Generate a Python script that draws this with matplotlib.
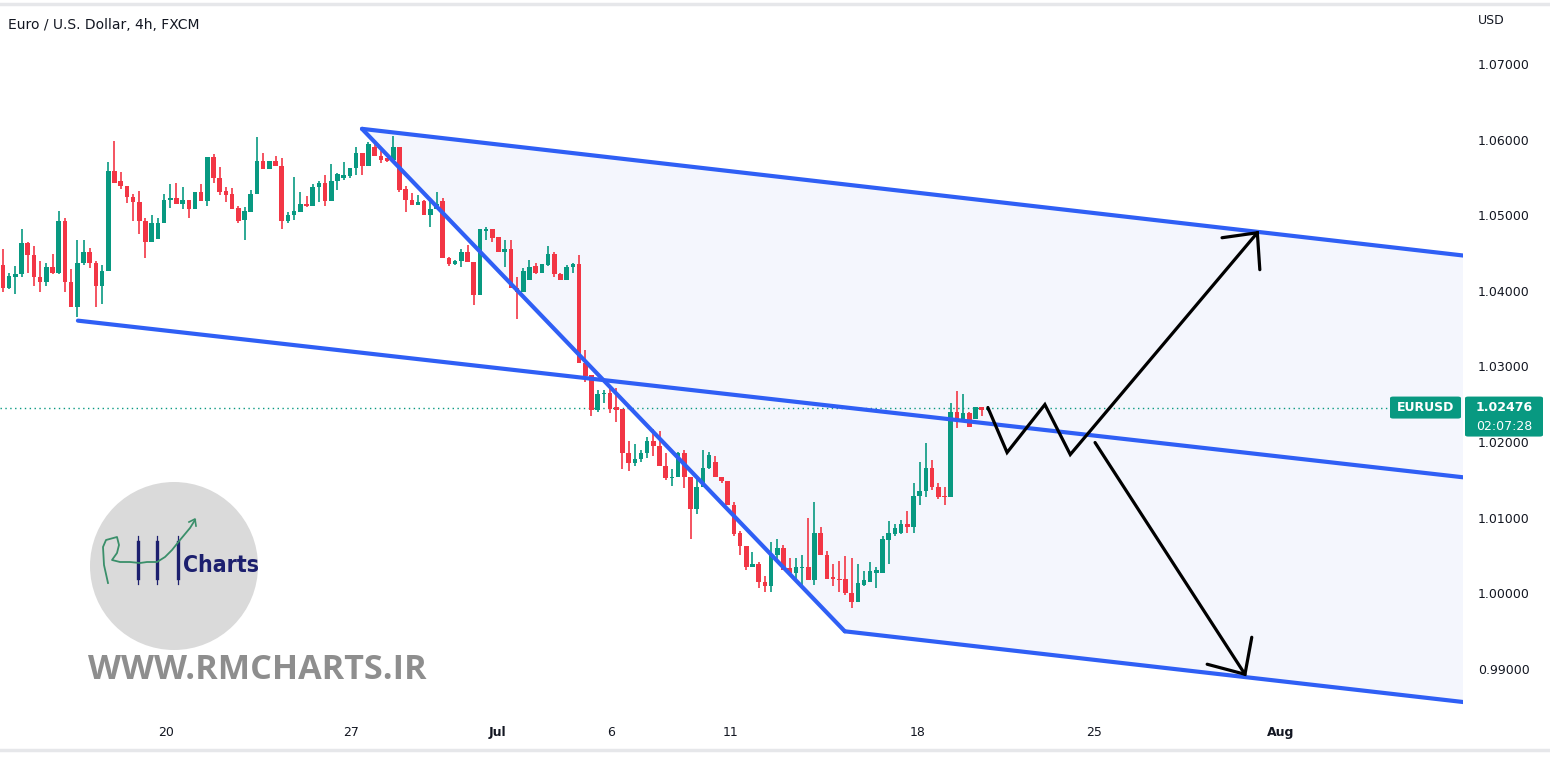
import matplotlib
matplotlib.use("Agg")
import matplotlib.pyplot as plt
import numpy as np
from matplotlib.patches import Polygon, Ellipse, FancyBboxPatch
from matplotlib.lines import Line2D
import matplotlib.transforms as mtransforms

# ---------------- data ----------------
opens = [1.0437,1.0406,1.0421,1.0424,1.0466,1.0449,1.0420,1.0414,1.0434,1.0426,
1.0494,1.0414,1.0381,1.0439,1.0453,1.0439,1.0409,1.0429,1.0561,1.0547,
1.0541,1.0527,1.0520,1.0495,1.0467,1.0471,1.0492,1.0523,1.0525,1.0517,
1.0523,1.0510,1.0533,1.0521,1.0580,1.0551,1.0535,1.0531,1.0512,1.0496,
1.0507,1.0531,1.0574,1.0564,1.0574,1.0568,1.0494,1.0503,1.0507,1.0517,
1.0515,1.0540,1.0545,1.0521,1.0547,1.0552,1.0554,1.0565,1.0585,1.0568,
1.0592,1.0581,1.0578,1.0576,1.0592,1.0537,1.0523,1.0516,1.0521,1.0503,
1.0511,1.0521,1.0446,1.0438,1.0442,1.0454,1.0441,1.0397,1.0482,1.0484,
1.0474,1.0454,1.0458,1.0406,1.0401,1.0416,1.0435,1.0426,1.0437,1.0451,
1.0425,1.0417,1.0434,1.0438,1.0307,1.0291,1.0245,1.0265,1.0267,1.0248,
1.0246,1.0187,1.0174,1.0179,1.0188,1.0203,1.0197,1.0170,1.0154,1.0156,
1.0188,1.0155,1.0113,1.0143,1.0167,1.0175,1.0155,1.0151,1.0119,1.0082,
1.0064,1.0037,1.0041,1.0016,1.0011,1.0053,1.0062,1.0035,1.0029,1.0035,
1.0037,1.0019,1.0082,1.0053,1.0023,1.0021,1.0020,1.0002,0.9990,1.0013,
1.0017,1.0029,1.0029,1.0072,1.0080,1.0081,1.0093,1.0090,1.0130,1.0137,
1.0167,1.0143,1.0130,1.0129,1.0242,1.0232,1.0241,1.0232,1.0248,1.0245]

highs = [1.0458,1.0426,1.0435,1.0484,1.0467,1.0461,1.0442,1.0439,1.0451,1.0508,
1.0498,1.0431,1.0470,1.0470,1.0459,1.0442,1.0437,1.0573,1.0601,1.0560,
1.0541,1.0531,1.0535,1.0498,1.0502,1.0499,1.0531,1.0543,1.0545,1.0540,
1.0523,1.0533,1.0543,1.0580,1.0584,1.0566,1.0540,1.0539,1.0515,1.0513,
1.0536,1.0606,1.0585,1.0574,1.0581,1.0578,1.0506,1.0553,1.0533,1.0528,
1.0543,1.0547,1.0556,1.0570,1.0558,1.0573,1.0565,1.0592,1.0585,1.0599,
1.0597,1.0588,1.0578,1.0607,1.0592,1.0541,1.0532,1.0529,1.0523,1.0523,
1.0533,1.0525,1.0447,1.0443,1.0458,1.0463,1.0441,1.0484,1.0487,1.0484,
1.0474,1.0470,1.0470,1.0421,1.0433,1.0443,1.0439,1.0438,1.0462,1.0454,
1.0426,1.0437,1.0439,1.0450,1.0324,1.0291,1.0271,1.0271,1.0275,1.0274,
1.0246,1.0203,1.0199,1.0191,1.0209,1.0219,1.0216,1.0188,1.0166,1.0189,
1.0192,1.0155,1.0155,1.0191,1.0189,1.0183,1.0156,1.0151,1.0123,1.0084,
1.0064,1.0056,1.0043,1.0024,1.0070,1.0074,1.0065,1.0048,1.0049,1.0053,
1.0102,1.0122,1.0089,1.0057,1.0040,1.0045,1.0051,1.0048,1.0041,1.0031,
1.0043,1.0036,1.0077,1.0097,1.0093,1.0099,1.0111,1.0148,1.0175,1.0201,
1.0178,1.0148,1.0143,1.0254,1.0269,1.0265,1.0242,1.0249,1.0249,1.0250]

lows = [1.0400,1.0404,1.0398,1.0420,1.0426,1.0408,1.0400,1.0408,1.0425,1.0425,
1.0400,1.0381,1.0367,1.0437,1.0433,1.0381,1.0385,1.0429,1.0545,1.0537,
1.0519,1.0495,1.0478,1.0445,1.0467,1.0471,1.0492,1.0512,1.0517,1.0510,
1.0499,1.0510,1.0521,1.0515,1.0545,1.0529,1.0520,1.0511,1.0492,1.0470,
1.0507,1.0531,1.0564,1.0563,1.0568,1.0484,1.0492,1.0496,1.0507,1.0513,
1.0515,1.0520,1.0515,1.0521,1.0536,1.0549,1.0552,1.0556,1.0556,1.0568,
1.0581,1.0572,1.0573,1.0576,1.0533,1.0506,1.0516,1.0516,1.0502,1.0487,
1.0511,1.0445,1.0435,1.0437,1.0434,1.0441,1.0384,1.0397,1.0470,1.0467,
1.0453,1.0434,1.0406,1.0365,1.0401,1.0416,1.0425,1.0426,1.0435,1.0421,
1.0416,1.0417,1.0426,1.0307,1.0282,1.0236,1.0242,1.0254,1.0241,1.0228,
1.0166,1.0163,1.0170,1.0176,1.0181,1.0183,1.0170,1.0152,1.0144,1.0156,
1.0141,1.0073,1.0106,1.0142,1.0166,1.0155,1.0148,1.0118,1.0077,1.0053,
1.0033,1.0036,1.0008,1.0004,1.0003,1.0044,1.0033,1.0029,1.0016,1.0013,
1.0019,1.0013,1.0053,1.0021,1.0011,1.0004,1.0000,0.9982,0.9990,1.0011,
1.0016,1.0008,1.0029,1.0040,1.0077,1.0080,1.0082,1.0082,1.0119,1.0129,
1.0138,1.0127,1.0119,1.0129,1.0221,1.0229,1.0222,1.0232,1.0236,1.0243]

closes = [1.0406,1.0422,1.0425,1.0466,1.0449,1.0420,1.0414,1.0434,1.0426,1.0494,
1.0414,1.0381,1.0439,1.0453,1.0439,1.0409,1.0429,1.0561,1.0545,1.0541,
1.0527,1.0520,1.0495,1.0467,1.0492,1.0492,1.0523,1.0525,1.0517,1.0523,
1.0510,1.0533,1.0521,1.0580,1.0551,1.0533,1.0529,1.0511,1.0495,1.0508,
1.0531,1.0574,1.0564,1.0574,1.0568,1.0494,1.0503,1.0508,1.0517,1.0515,
1.0540,1.0545,1.0521,1.0547,1.0557,1.0556,1.0565,1.0585,1.0568,1.0597,
1.0581,1.0576,1.0574,1.0592,1.0536,1.0523,1.0516,1.0520,1.0503,1.0511,
1.0517,1.0445,1.0438,1.0442,1.0454,1.0441,1.0397,1.0484,1.0484,1.0472,
1.0453,1.0458,1.0406,1.0401,1.0428,1.0434,1.0426,1.0438,1.0451,1.0424,
1.0417,1.0434,1.0438,1.0307,1.0290,1.0245,1.0265,1.0267,1.0246,1.0245,
1.0187,1.0174,1.0180,1.0188,1.0203,1.0197,1.0170,1.0154,1.0156,1.0188,
1.0155,1.0113,1.0143,1.0168,1.0185,1.0155,1.0150,1.0118,1.0080,1.0064,
1.0037,1.0041,1.0016,1.0011,1.0053,1.0062,1.0033,1.0029,1.0036,1.0037,
1.0019,1.0082,1.0053,1.0021,1.0020,1.0019,1.0002,0.9990,1.0015,1.0019,
1.0031,1.0033,1.0073,1.0081,1.0088,1.0093,1.0090,1.0130,1.0137,1.0168,
1.0143,1.0129,1.0129,1.0242,1.0232,1.0241,1.0222,1.0248,1.0245,1.02476]

last_price = 1.02476
countdown = "02:07:28"
symbol = "EURUSD"
title = "Euro / U.S. Dollar, 4h, FXCM"

price_ticks = [0.99, 1.00, 1.01, 1.02, 1.03, 1.04, 1.05, 1.06, 1.07]
date_labels = ["20", "27", "Jul", "6", "11", "18", "25", "Aug"]
date_pos = [26.3, 56.2, 79.8, 98.2, 117.4, 147.7, 176.1, 206.3]
month_labels = {"Jul", "Aug"}

# drawing anchors (bar index, price)
upper_line = [(57.96, 1.06167), (236.0, 1.04487)]
middle_line = [(12.1, 1.03627), (236.0, 1.01550)]
lower_line = [(135.9, 0.99513), (236.0, 0.98574)]
diag_line = [(57.96, 1.06167), (135.9, 0.99513)]
zigzag = [(159.0, 1.02476), (162.1, 1.01881), (168.2, 1.02516), (172.3, 1.01854), (202.5, 1.04791)]
up_head = [(196.8, 1.04725), (202.5, 1.04791), (202.9, 1.04302)]
down_arrow = [(176.3, 1.02013), (200.5, 0.98944)]
down_head = [(194.4, 0.99077), (200.5, 0.98944), (201.6, 0.99434)]

# ---------------- style ----------------
GREEN = "#089981"
RED = "#F23645"
BLUE = "#2f5ff5"
FILL = "#f4f6fd"
TXT = "#131722"

W, H = 1550, 765
fig = plt.figure(figsize=(W / 100, H / 100), dpi=100)
fig.patch.set_facecolor("white")

def fx(px):
    return px / W

def fy(py):
    return 1 - py / H

ax_left, ax_right, ax_top, ax_bot = 0, 1463, 5, 718
ax = fig.add_axes([fx(ax_left), fy(ax_bot), fx(ax_right - ax_left), (ax_bot - ax_top) / H])
ax.set_facecolor("white")
for s in ax.spines.values():
    s.set_visible(False)

ax.set_xlim(-0.48, 235.7)
ax.set_ylim(0.98365, 1.07807)

# channel fill
poly = Polygon([upper_line[0], upper_line[1], lower_line[1], lower_line[0]],
               closed=True, facecolor=FILL, edgecolor="none", zorder=0)
ax.add_patch(poly)

# candles
o = np.array(opens); h = np.array(highs); l = np.array(lows); c = np.array(closes)
x = np.arange(len(o))
cols = np.where(c >= o, GREEN, RED)
ax.vlines(x, l, h, colors=cols, linewidth=1.2, zorder=2)
minh = 0.00016
body_h = np.maximum(np.abs(c - o), minh)
ax.bar(x, body_h, bottom=np.minimum(o, c), width=0.74, color=cols, linewidth=0, zorder=3)

# last price dotted line
ax.axhline(last_price, color=GREEN, linewidth=1.0, linestyle=(0, (1, 2.5)), zorder=1)

# channel lines
for ln in (upper_line, middle_line, lower_line, diag_line):
    xs, ys = zip(*ln)
    ax.plot(xs, ys, color=BLUE, linewidth=3.0, solid_capstyle="round", zorder=4)

# black arrows
for ln in (zigzag, up_head, down_arrow, down_head):
    xs, ys = zip(*ln)
    ax.plot(xs, ys, color="black", linewidth=2.3, solid_capstyle="round",
            solid_joinstyle="miter", zorder=5)

# x ticks
ax.set_yticks([])
ax.set_xticks(date_pos)
ax.set_xticklabels(date_labels)
ax.tick_params(axis="x", length=0, pad=6, labelsize=9, labelcolor=TXT)
for t in ax.get_xticklabels():
    if t.get_text() in month_labels:
        t.set_fontweight("bold")

# price axis labels
trans_py = mtransforms.blended_transform_factory(fig.transFigure, ax.transData)
for p in price_ticks:
    ax.text(fx(1478), p, f"{p:.5f}", transform=trans_py, fontsize=9, color=TXT,
            va="center", ha="left", clip_on=False)
fig.text(fx(1478), fy(20), "USD", fontsize=9, color=TXT, va="center", ha="left")

# title
fig.text(fx(8), fy(25), title, fontsize=10, color=TXT, va="center", ha="left")

# price label boxes
ydisp = ax.transData.transform((0, last_price))[1]
ypx = H - ydisp  # pixel from top
def rbox(x0, y0, x1, y1, color):
    b = FancyBboxPatch((fx(x0), fy(y1)), fx(x1 - x0), (y1 - y0) / H,
                       boxstyle="round,pad=0,rounding_size=0.002",
                       transform=fig.transFigure, facecolor=color, edgecolor="none", zorder=10)
    fig.add_artist(b)
rbox(1390, ypx - 11, 1461, ypx + 11, GREEN)
rbox(1465, ypx - 11, 1543, ypx + 29, GREEN)
fig.text(fx(1425.5), fy(ypx), symbol, color="white", fontsize=9, fontweight="bold",
         ha="center", va="center", zorder=11)
fig.text(fx(1504), fy(ypx), f"{last_price:.5f}", color="white", fontsize=9, fontweight="bold",
         ha="center", va="center", zorder=11)
fig.text(fx(1504), fy(ypx + 19), countdown, color="white", fontsize=9,
         ha="center", va="center", zorder=11)

# borders
fig.add_artist(Line2D([0, 1], [fy(4), fy(4)], transform=fig.transFigure, color="#e6e7ea", linewidth=2.5))
fig.add_artist(Line2D([0, 1], [fy(750), fy(750)], transform=fig.transFigure, color="#e6e7ea", linewidth=2.5))

# logo
fig.add_artist(Ellipse((fx(174), fy(566)), fx(168), 168 / H, transform=fig.transFigure,
                       facecolor="#dadada", edgecolor="none", zorder=6))
NAVY = "#1c1f6e"
for cx in (138, 157, 178):
    fig.add_artist(Line2D([fx(cx), fx(cx)], [fy(536), fy(584)], transform=fig.transFigure,
                          color=NAVY, linewidth=0.9, zorder=7))
    fig.add_artist(Line2D([fx(cx), fx(cx)], [fy(542), fy(578)], transform=fig.transFigure,
                          color=NAVY, linewidth=2.4, zorder=7))
rx = [108, 104, 103, 106, 117, 119, 117, 112, 120, 130, 140, 147, 157, 165, 172, 180, 190, 195]
ry = [583, 565, 547, 540, 537, 545, 553, 560, 562, 562, 563, 562, 562, 557, 550, 540, 528, 520]
fig.add_artist(Line2D([fx(v) for v in rx], [fy(v) for v in ry], transform=fig.transFigure,
                      color="#3a8f6a", linewidth=1.3, zorder=8))
fig.add_artist(Line2D([fx(189), fx(195), fx(196)], [fy(522), fy(519), fy(526)],
                      transform=fig.transFigure, color="#3a8f6a", linewidth=1.2, zorder=8))
fig.text(fx(183), fy(566), "Charts", color=NAVY, fontsize=16.5, fontweight="bold",
         fontstretch="condensed",
         family=["DejaVu Sans Condensed", "Liberation Sans Narrow", "DejaVu Sans"],
         ha="left", va="center", zorder=8)
fig.text(fx(88), fy(670), "WWW.RMCHARTS.IR", color="#8e8e8e", fontsize=24.6, fontweight="bold",
         family=["Open Sans", "DejaVu Sans"], ha="left", va="center", zorder=8)

fig.savefig("out.png", dpi=100, facecolor="white")
